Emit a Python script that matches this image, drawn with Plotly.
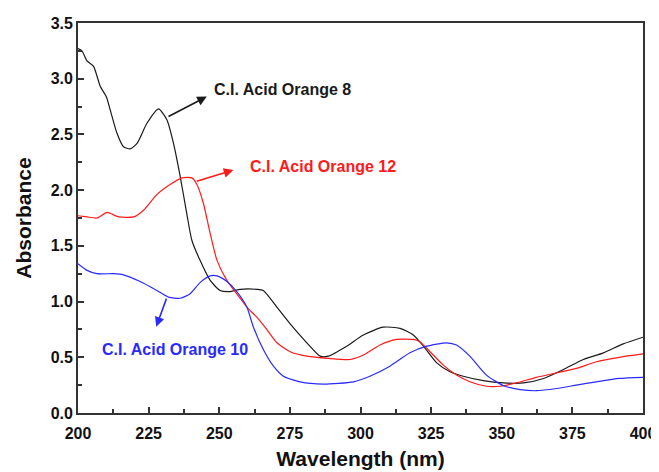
import plotly.graph_objects as go

# C.I. Acid Orange 8 (black)
ao8_x = [200, 201.4, 203.2, 205.5, 207.9, 210, 211.4, 213.8, 216.1, 218.5, 220.9, 224.4, 228.5, 231.5,
         233.8, 236.2, 238.5, 240.3, 243.2, 246.8, 250.3, 253.9, 257.4, 263.3, 265.6, 270.4, 275.1, 281,
         285.7, 288.6, 295.1, 301, 308, 314, 318.7, 322.3, 327, 331.7, 336.4, 343.5, 350.6, 357.7, 364.8,
         371.8, 378.9, 386, 393, 400]
ao8_y = [3.27, 3.25, 3.16, 3.11, 2.93, 2.84, 2.72, 2.51, 2.39, 2.37, 2.42, 2.60, 2.73, 2.63,
         2.42, 2.12, 1.79, 1.55, 1.37, 1.19, 1.10, 1.09, 1.11, 1.11, 1.10, 0.95, 0.80, 0.63,
         0.51, 0.51, 0.60, 0.70, 0.77, 0.76, 0.70, 0.60, 0.45, 0.37, 0.33, 0.29, 0.27, 0.27, 0.31,
         0.39, 0.48, 0.54, 0.62, 0.68]

# C.I. Acid Orange 12 (red)
ao12_x = [200, 203.2, 206.7, 210.3, 214.4, 219.7, 223.2, 227.9, 232.6, 236.8, 240.3, 242.1, 244.4, 246.8,
          249.2, 252.7, 256.2, 259.8, 263.3, 266.8, 270.4, 275.1, 281, 288.6, 296.3, 301, 306.9, 312.8,
          318.7, 321, 324.6, 329.3, 334, 338.7, 344.6, 349.4, 355.2, 362.3, 369.4, 376.4, 383.5, 391.7, 400]
ao12_y = [1.77, 1.76, 1.75, 1.80, 1.76, 1.76, 1.82, 1.96, 2.05, 2.11, 2.11, 2.05, 1.88, 1.61,
          1.37, 1.19, 1.07, 0.95, 0.86, 0.75, 0.63, 0.55, 0.51, 0.49, 0.48, 0.52, 0.61, 0.66,
          0.66, 0.64, 0.55, 0.43, 0.34, 0.28, 0.24, 0.24, 0.27, 0.32, 0.36, 0.40, 0.46, 0.50, 0.53]

# C.I. Acid Orange 10 (blue)
ao10_x = [200, 203.2, 206.7, 212.6, 216.1, 222, 227.9, 232, 236.2, 239.7, 243.2, 246.8, 249.2, 252.7,
          256.2, 259.8, 262.1, 265.6, 269.2, 272.7, 278.6, 286.8, 297.5, 303.3, 310.4, 317.5, 323.4,
          330.5, 334, 338.7, 344.6, 350.6, 356.5, 362.3, 369.4, 376.4, 383.5, 391.7, 400]
ao10_y = [1.34, 1.28, 1.25, 1.25, 1.24, 1.18, 1.10, 1.04, 1.03, 1.07, 1.17, 1.23, 1.23, 1.18,
          1.09, 0.95, 0.77, 0.57, 0.42, 0.33, 0.28, 0.26, 0.28, 0.33, 0.42, 0.54, 0.60,
          0.63, 0.61, 0.51, 0.34, 0.245, 0.21, 0.20, 0.22, 0.25, 0.28, 0.31, 0.32]

x_ticks = [200, 225, 250, 275, 300, 325, 350, 375, 400]
y_ticks = [0.0, 0.5, 1.0, 1.5, 2.0, 2.5, 3.0, 3.5]

FONT = "Liberation Sans, Arial, sans-serif"
BLACK = "#1a1a1a"
RED = "#ff1a1a"
BLUE = "#2a2aff"
TXT = "#111111"

fig = go.Figure()
for xs, ys, c, nm in [(ao8_x, ao8_y, BLACK, "C.I. Acid Orange 8"),
                      (ao12_x, ao12_y, RED, "C.I. Acid Orange 12"),
                      (ao10_x, ao10_y, BLUE, "C.I. Acid Orange 10")]:
    fig.add_trace(go.Scatter(x=xs, y=ys, mode="lines",
                             line=dict(color=c, width=1.2, shape="spline", smoothing=0.6), name=nm))

labels = [
    dict(text="C.I. Acid Orange 8", x=247.5, y=2.90, color=BLACK, xanchor="left"),
    dict(text="C.I. Acid Orange 12", x=260.2, y=2.21, color=RED, xanchor="left"),
    dict(text="C.I. Acid Orange 10", x=234.4, y=0.566, color=BLUE, xanchor="center"),
]
for lb in labels:
    fig.add_annotation(x=lb["x"], y=lb["y"], text="<b>%s</b>" % lb["text"], showarrow=False,
                       xanchor=lb["xanchor"], yanchor="middle",
                       font=dict(family=FONT, size=16, color=lb["color"]))

# arrows: (head_x, head_y, tail_x, tail_y)
arrows = [
    (245.6, 2.84, 231.5, 2.654, BLACK),
    (255.0, 2.18, 241.5, 2.076, RED),
    (227.7, 0.775, 231.5, 1.04, BLUE),
]
for hx, hy, tx, ty, c in arrows:
    fig.add_annotation(x=hx, y=hy, ax=tx, ay=ty, xref="x", yref="y", axref="x", ayref="y",
                       text="", showarrow=True, arrowhead=2, arrowsize=1.2, arrowwidth=1.6,
                       arrowcolor=c, standoff=0, startstandoff=0)

axis_common = dict(
    showgrid=False, zeroline=False, showline=True, linecolor="#333333", linewidth=1.8,
    mirror=True, ticks="inside", ticklen=6, tickwidth=1.5, tickcolor="#333333",
    tickfont=dict(family=FONT, size=16, color=TXT, weight="bold"), automargin=False,
)
fig.update_xaxes(**axis_common, range=[200, 400], tickvals=x_ticks, ticktext=[str(v) for v in x_ticks],
                 ticklabelstandoff=5,
                 minor=dict(ticks="inside", ticklen=4, tickwidth=1.5, tickcolor="#333333", dtick=12.5, tick0=200),
                 title=dict(text="<b>Wavelength (nm)</b>", font=dict(family=FONT, size=21, color=TXT), standoff=10))
fig.update_yaxes(**axis_common, range=[0, 3.5], tickvals=y_ticks, ticktext=["%.1f" % v for v in y_ticks],
                 minor=dict(ticks="inside", ticklen=4, tickwidth=1.5, tickcolor="#333333", dtick=0.25, tick0=0),
                 title=dict(text="<b>Absorbance</b>", font=dict(family=FONT, size=21, color=TXT), standoff=13))

# page body adds an 8px margin, so the figure is sized/offset to compensate
fig.update_layout(width=651, height=464, margin=dict(l=70, r=16, t=15, b=59),
                  paper_bgcolor="white", plot_bgcolor="white", showlegend=False,
                  font=dict(family=FONT))

fig.write_html("out.html")
